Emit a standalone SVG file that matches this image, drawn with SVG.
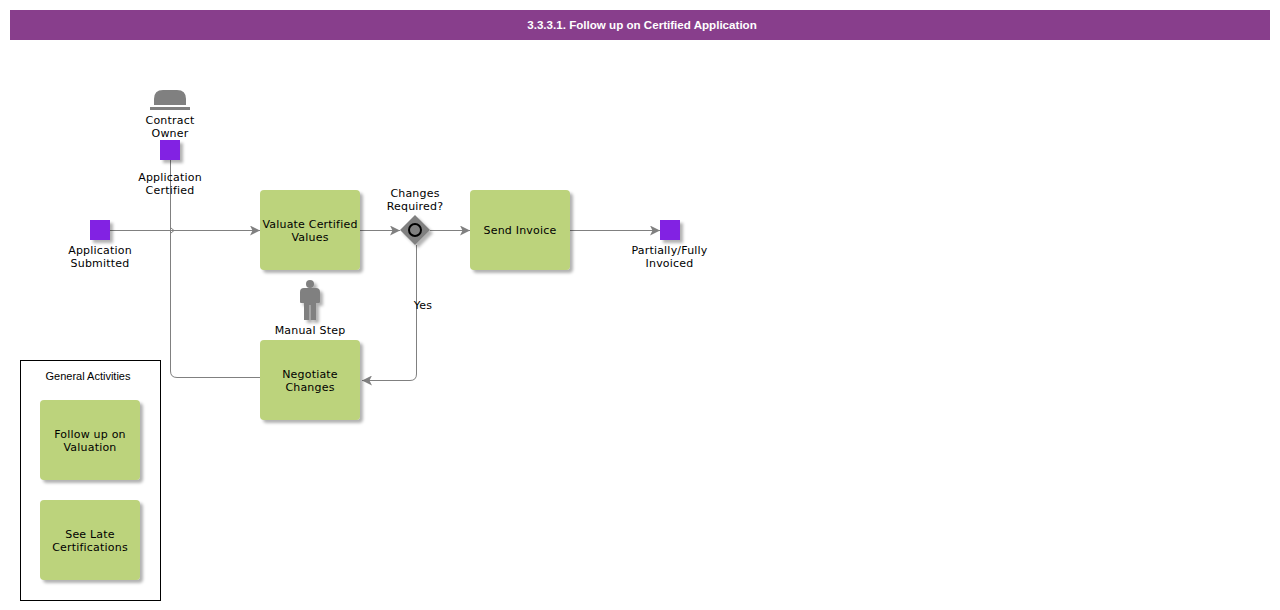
<svg xmlns="http://www.w3.org/2000/svg" width="1280" height="610" viewBox="0 0 1280 610">
  <defs>
    <filter id="shade" x="-20%" y="-20%" width="150%" height="150%">
      <feDropShadow dx="3" dy="3" stdDeviation="1.8" flood-color="#000" flood-opacity="0.3"/>
    </filter>
    <marker id="arrow" markerUnits="userSpaceOnUse" markerWidth="12" markerHeight="10" refX="10" refY="5" orient="auto">
      <path d="M0 0 L10 5 L0 10 L2.5 5 Z" fill="#808080"/>
    </marker>
  </defs>
  <style>
    text { font-family: "DejaVu Sans", Verdana, sans-serif; font-size: 11px; letter-spacing: 0.2px; fill: #000; text-anchor: middle; }
    .title { font-family: "Liberation Sans", Arial, sans-serif; font-size: 11.6px; letter-spacing: 0; font-weight: bold; fill: #fff; }
    .plain { font-family: "Liberation Sans", Arial, sans-serif; font-size: 11px; letter-spacing: 0; }
    .task { fill: #bcd37b; filter: url(#shade); }
    .event { fill: #8224e3; filter: url(#shade); }
    .icon { fill: #808080; }
    .link { fill: none; stroke: #808080; stroke-width: 1; }
  </style>

  <g id="header">
    <rect x="10" y="10" width="1260" height="30" fill="#883e8c"/>
    <text class="title" x="642" y="29">3.3.3.1. Follow up on Certified Application</text>
  </g>

  <g id="connectors">
    <path class="link" d="M170.500 160 V371 Q170.500 377.500 177 377.500 H260"/>
    <path class="link" marker-end="url(#arrow)" d="M110 230.500 H260"/>
    <path class="link" d="M171 228 L174 230.500 L171 233"/>
    <path class="link" marker-end="url(#arrow)" d="M360 230.500 H400"/>
    <path class="link" marker-end="url(#arrow)" d="M430 230.500 H470"/>
    <path class="link" marker-end="url(#arrow)" d="M570 230.500 H660"/>
    <path class="link" marker-end="url(#arrow)" d="M416.500 245 V374 Q416.500 380.500 410 380.500 H362"/>
  </g>

  <g id="contract-owner">
    <path class="icon" d="M154 105 V99 Q154 90 163 90 H177 Q186 90 186 99 V105 Z"/>
    <rect class="icon" x="150" y="107" width="40" height="3"/>
    <text x="170" y="124">Contract</text>
    <text x="170" y="137">Owner</text>
  </g>

  <g id="application-certified">
    <rect class="event" x="160" y="140" width="20" height="20"/>
    <text x="170" y="181">Application</text>
    <text x="170" y="194">Certified</text>
  </g>

  <g id="application-submitted">
    <rect class="event" x="90" y="220" width="20" height="20"/>
    <text x="100" y="254">Application</text>
    <text x="100" y="267">Submitted</text>
  </g>

  <g id="valuate-certified-values">
    <rect class="task" x="260" y="190" width="100" height="80" rx="4"/>
    <text x="310" y="228">Valuate Certified</text>
    <text x="310" y="241">Values</text>
  </g>

  <g id="changes-required">
    <path d="M415 215 L430 230 L415 245 L400 230 Z" fill="#808080" filter="url(#shade)"/>
    <circle cx="415" cy="230" r="6" fill="none" stroke="#000" stroke-width="2"/>
    <text x="415" y="197">Changes</text>
    <text x="415" y="210">Required?</text>
  </g>

  <g id="send-invoice">
    <rect class="task" x="470" y="190" width="100" height="80" rx="4"/>
    <text x="520" y="234">Send Invoice</text>
  </g>

  <g id="partially-fully-invoiced">
    <rect class="event" x="660" y="220" width="20" height="20"/>
    <text x="669.500" y="254">Partially/Fully</text>
    <text x="669.500" y="267">Invoiced</text>
  </g>

  <g id="manual-step">
    <g filter="url(#shade)">
      <circle class="icon" cx="310" cy="284" r="4"/>
      <path class="icon" d="M304 288 H316 Q320 288 320 292 V302 Q320 303 319 303 H316 V320 H310.500 V305 H309.500 V320 H304 V303 H301 Q300 303 300 302 V292 Q300 288 304 288 Z"/>
    </g>
    <text x="310" y="334">Manual Step</text>
  </g>

  <g id="negotiate-changes">
    <rect class="task" x="260" y="340" width="100" height="80" rx="4"/>
    <text x="310" y="378">Negotiate</text>
    <text x="310" y="391">Changes</text>
  </g>

  <g id="yes-label">
    <text x="423" y="309">Yes</text>
  </g>

  <g id="general-activities">
    <rect x="20.500" y="360.500" width="140" height="240" fill="none" stroke="#000"/>
    <text class="plain" x="88" y="380">General Activities</text>
  </g>

  <g id="follow-up-on-valuation">
    <rect class="task" x="40" y="400" width="100" height="80" rx="4"/>
    <text x="90" y="438">Follow up on</text>
    <text x="90" y="451">Valuation</text>
  </g>

  <g id="see-late-certifications">
    <rect class="task" x="40" y="500" width="100" height="80" rx="4"/>
    <text x="90" y="538">See Late</text>
    <text x="90" y="551">Certifications</text>
  </g>
</svg>
